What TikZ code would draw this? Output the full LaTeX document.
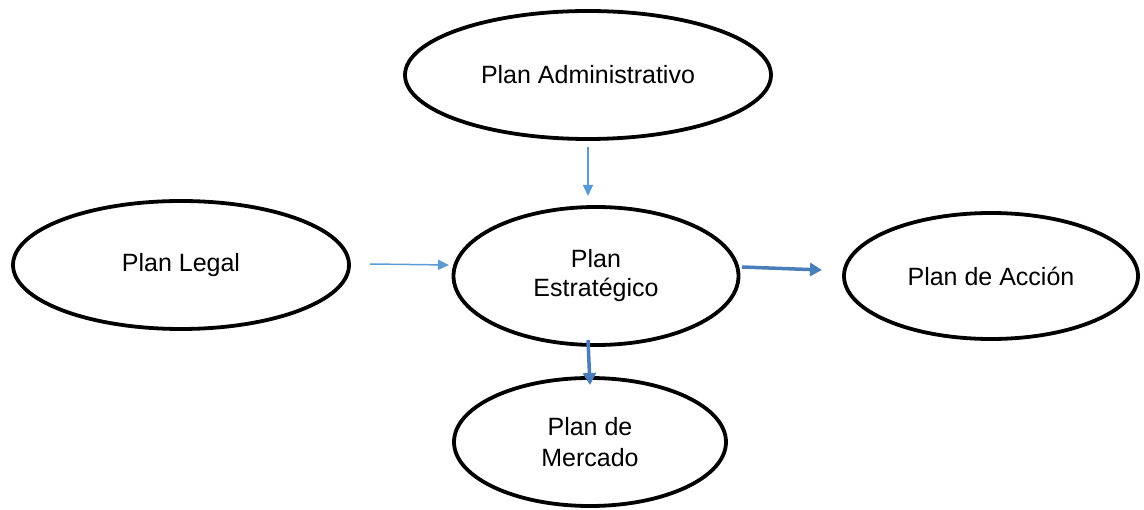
\documentclass[tikz,border=0pt]{standalone}
\usepackage{fontspec}
\setmainfont{Liberation Sans}
\usetikzlibrary{shapes.geometric,arrows.meta}
\definecolor{thinblue}{HTML}{5B9BD5}
\definecolor{thickblue}{HTML}{4A7EBB}
\begin{document}
\begin{tikzpicture}[x=1pt,y=-1pt,
  oval/.style={ellipse,draw=black,line width=3.8pt,inner sep=0pt,align=center,
    font=\fontsize{25}{29}\selectfont},
  thinarrow/.style={draw=thinblue,line width=1.5pt,-{Triangle[length=11pt,width=10pt]}},
  thickarrow/.style={draw=thickblue,line width=3.5pt,-{Triangle[length=12pt,width=13pt]}}]
\useasboundingbox (0,0) rectangle (1144,510);
\node[oval,minimum width=366pt,minimum height=128pt] (adm) at (588,75) {Plan Administrativo};
\node[oval,minimum width=336pt,minimum height=128pt] (leg) at (181,265) {Plan Legal};
\node[oval,minimum width=285pt,minimum height=138pt] (est) at (596,276) {Plan\\Estratégico};
\node[oval,minimum width=294pt,minimum height=126pt] (acc) at (991,276) {Plan de Acción};
\node[oval,minimum width=272pt,minimum height=128pt,font=\fontsize{25}{31}\selectfont] (mer) at (590,442) {Plan de\\Mercado};
\coordinate (a1) at (588,147);
\coordinate (a2) at (588,196);
\coordinate (l1) at (370,264);
\coordinate (l2) at (449,265);
\coordinate (r1) at (742,267);
\coordinate (r2) at (822,270);
\coordinate (m1) at (588,340);
\coordinate (m2) at (590,385);
\draw[thinarrow] (a1) -- (a2);
\draw[thinarrow] (l1) -- (l2);
\draw[thickarrow] (r1) -- (r2);
\draw[thickarrow] (m1) -- (m2);
\end{tikzpicture}
\end{document}
